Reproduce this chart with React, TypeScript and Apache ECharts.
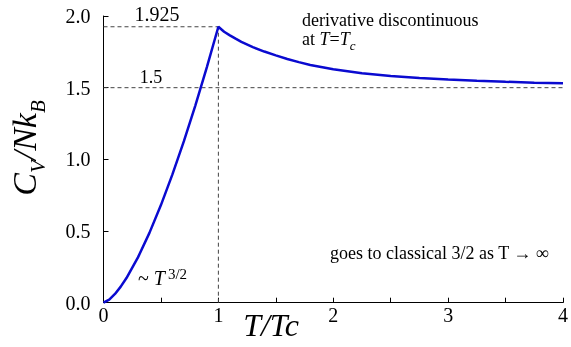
import React, { useEffect, useRef } from "react";
import * as echarts from "echarts";

// Heat capacity of an ideal Bose gas versus reduced temperature
const riseT = [0, 0.05, 0.1, 0.15, 0.2, 0.3, 0.4, 0.5, 0.6, 0.7, 0.8, 0.9, 1.0];
const riseC = [0, 0.022, 0.061, 0.112, 0.172, 0.316, 0.487, 0.681, 0.895, 1.127, 1.377, 1.644, 1.925];
const fallT = [1.0, 1.05, 1.1, 1.15, 1.2, 1.3, 1.4, 1.5, 1.6, 1.7, 1.8, 2.0, 2.25, 2.5, 2.75, 3.0, 3.25, 3.5, 3.75, 4.0];
const fallC = [1.925, 1.89, 1.865, 1.842, 1.82, 1.783, 1.752, 1.725, 1.7, 1.678, 1.658, 1.628, 1.6, 1.582, 1.568, 1.557, 1.548, 1.541, 1.535, 1.531];

const criticalT = 1;
const peakC = 1.925;
const classicalC = 1.5;
const xMax = 4;
const yMax = 2;

const SERIF = "Liberation Serif";

export default function App() {
  const ref = useRef<HTMLDivElement>(null);

  useEffect(() => {
    if (!ref.current) return;
    const chart = echarts.init(ref.current, undefined, { renderer: "svg" });

    const curve = [
      ...riseT.map((t, i) => [t, riseC[i]]),
      ...fallT.slice(1).map((t, i) => [t, fallC[i + 1]]),
    ];

    const dashed = {
      type: "line",
      symbol: "none",
      silent: true,
      z: 1,
      lineStyle: { color: "#444", width: 1, type: [4, 3] },
    };

    chart.setOption({
      animation: false,
      grid: { left: 103.5, right: 6.5, top: 16, bottom: 44.3 },
      xAxis: {
        type: "value",
        min: 0,
        max: xMax,
        interval: 0.5,
        axisLine: { show: true, lineStyle: { color: "#000", width: 1 } },
        axisTick: { show: true, inside: true, length: 5, lineStyle: { color: "#000" } },
        splitLine: { show: false },
        axisLabel: {
          margin: 2,
          fontSize: 20,
          fontFamily: SERIF,
          color: "#000",
          formatter: (v: number) => (Number.isInteger(v) ? String(v) : ""),
        },
      },
      yAxis: {
        type: "value",
        min: 0,
        max: yMax,
        interval: 0.5,
        axisLine: { show: true, lineStyle: { color: "#000", width: 1 } },
        axisTick: { show: true, inside: true, length: 5, lineStyle: { color: "#000" } },
        splitLine: { show: false },
        axisLabel: {
          margin: 13,
          fontSize: 20,
          fontFamily: SERIF,
          color: "#000",
          formatter: (v: number) => v.toFixed(1),
        },
      },
      series: [
        { ...dashed, data: [[0, peakC], [criticalT, peakC]] },
        { ...dashed, data: [[criticalT, 0], [criticalT, peakC]] },
        { ...dashed, data: [[0, classicalC], [xMax, classicalC]] },
        {
          type: "line",
          symbol: "none",
          z: 3,
          data: curve,
          lineStyle: { color: "#0a0ad0", width: 2.5 },
        },
      ],
      graphic: [
        {
          type: "text",
          x: 157,
          y: 14,
          style: {
            text: peakC.toFixed(3),
            fontSize: 20,
            fontFamily: SERIF,
            fill: "#000",
            align: "center",
            verticalAlign: "middle",
          },
        },
        {
          type: "text",
          x: 151,
          y: 76.5,
          style: {
            text: String(classicalC),
            fontSize: 18,
            fontFamily: SERIF,
            fill: "#000",
            align: "center",
            verticalAlign: "middle",
          },
        },
        {
          type: "text",
          x: 302,
          y: 19.5,
          style: {
            text: "derivative discontinuous",
            fontSize: 18,
            fontFamily: SERIF,
            fill: "#000",
            align: "left",
            verticalAlign: "middle",
          },
        },
        {
          type: "text",
          x: 302,
          y: 52,
          style: {
            text: "{r|at }{i|T}{r|=}{i|T}{s|c}",
            fill: "#000",
            align: "left",
            verticalAlign: "bottom",
            rich: {
              r: { fontSize: 18, fontFamily: SERIF, verticalAlign: "bottom", padding: [0, 0, 4, 0] },
              i: { fontSize: 18, fontFamily: SERIF, fontStyle: "italic", verticalAlign: "bottom", padding: [0, 0, 4, 0] },
              s: { fontSize: 13, fontFamily: SERIF, fontStyle: "italic", verticalAlign: "bottom" },
            },
          },
        },
        {
          type: "text",
          x: 330,
          y: 253,
          style: {
            text: "goes to classical 3/2 as T \u2192 \u221e",
            fontSize: 18,
            fontFamily: SERIF,
            fill: "#000",
            align: "left",
            verticalAlign: "middle",
          },
        },
        {
          type: "text",
          x: 138,
          y: 288,
          style: {
            text: "{r|~ }{i|T}{p|3/2}",
            fill: "#000",
            align: "left",
            verticalAlign: "bottom",
            rich: {
              r: { fontSize: 20, fontFamily: SERIF, verticalAlign: "bottom" },
              i: { fontSize: 20, fontFamily: SERIF, fontStyle: "italic", verticalAlign: "bottom" },
              p: { fontSize: 15, fontFamily: SERIF, verticalAlign: "bottom", padding: [0, 0, 7, 3] },
            },
          },
        },
        {
          type: "text",
          x: 271,
          y: 325,
          style: {
            text: "T/Tc",
            fontSize: 32,
            fontStyle: "italic",
            fontFamily: SERIF,
            fill: "#000",
            align: "center",
            verticalAlign: "middle",
          },
        },
        {
          type: "text",
          x: 28,
          y: 148,
          rotation: Math.PI / 2,
          style: {
            text: "{c|C}{s|V}{c|/Nk}{s|B}",
            fill: "#000",
            align: "center",
            verticalAlign: "middle",
            rich: {
              c: { fontSize: 34, fontFamily: SERIF, fontStyle: "italic", verticalAlign: "bottom", padding: [0, 0, 7, 0] },
              s: { fontSize: 21, fontFamily: SERIF, fontStyle: "italic", verticalAlign: "bottom" },
            },
          },
        },
      ],
    });

    return () => chart.dispose();
  }, []);

  return (
    <div
      ref={ref}
      style={{ position: "fixed", left: 0, top: 0, width: 571, height: 347 }}
    />
  );
}
